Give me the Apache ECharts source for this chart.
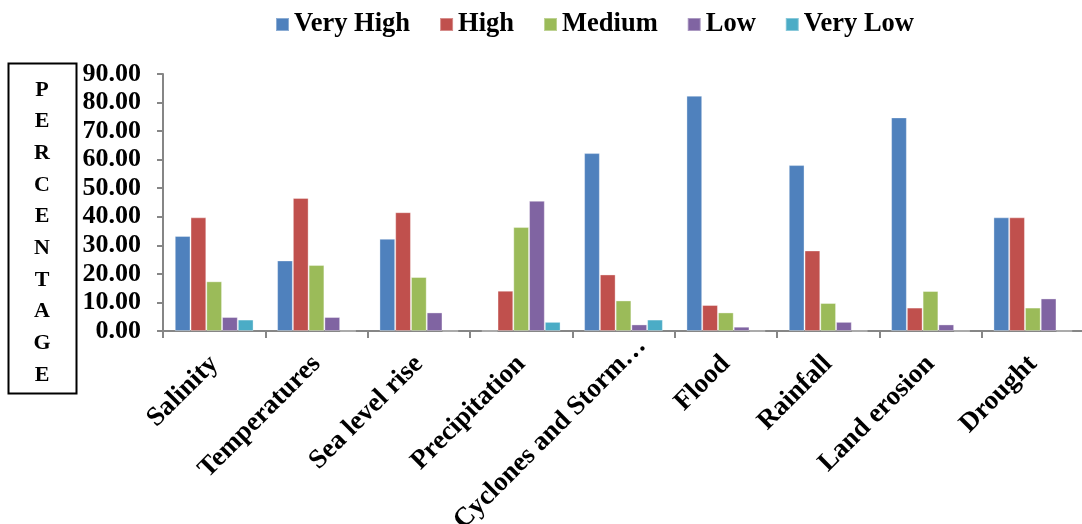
<!DOCTYPE html>
<html>
<head>
<meta charset="utf-8">
<script src="https://cdn.jsdelivr.net/npm/echarts@6/dist/echarts.min.js"></script>
<style>
  html, body { margin: 0; padding: 0; background: #ffffff; }
  #chart { width: 1082px; height: 524px; }
</style>
</head>
<body>
<div id="chart"></div>
<script>
// Climate hazards ranked by share of respondents per perceived severity level (%)
const categories = ['Salinity', 'Temperatures', 'Sea level rise', 'Precipitation',
  'Cyclones and Storm Surge', 'Flood', 'Rainfall', 'Land erosion', 'Drought'];

const veryHigh = [33.3, 24.7, 32.3, 0, 62.3, 82.4, 58.1, 74.8, 39.8];
const high     = [39.8, 46.6, 41.6, 14.1, 19.8, 9.1, 28.2, 8.2, 39.8];
const medium   = [17.4, 23.1, 18.9, 36.4, 10.7, 6.5, 9.8, 14.0, 8.2];
const low      = [4.9, 4.9, 6.5, 45.6, 2.3, 1.5, 3.2, 2.3, 11.4];
const veryLow  = [4.0, 0, 0, 3.2, 4.0, 0, 0, 0, 0];

const seriesNames = ['Very High', 'High', 'Medium', 'Low', 'Very Low'];
const seriesData = [veryHigh, high, medium, low, veryLow];
const colors = ['#4F81BD', '#C0504D', '#9BBB59', '#8064A2', '#4BACC6'];

const yTicks = { min: 0, max: 90, step: 10 };
const yTitle = 'PERCENTAGE';

const serif = '"Liberation Serif", "DejaVu Serif", serif';
const axisGray = '#868686';
const longLabelWidth = 262;

// the long, truncated category label sits a little further along its slant
const categoryItems = categories.map(name =>
  name.length > 20
    ? { value: name, textStyle: { padding: [0, -26, 0, 0] } }
    : name
);

const chart = echarts.init(document.getElementById('chart'), null, { renderer: 'canvas' });

chart.setOption({
  animation: false,
  color: colors,
  legend: {
    top: 6,
    left: 270,
    itemWidth: 13,
    itemHeight: 13,
    itemGap: 29,
    icon: 'rect',
    textStyle: { fontFamily: serif, fontWeight: 'bold', fontSize: 26.5, color: '#000' },
    data: seriesNames
  },
  grid: {
    left: 163, right: -2, top: 74, bottom: 193,
    containLabel: false,
    outerBoundsMode: 'none'
  },
  xAxis: {
    type: 'category',
    data: categoryItems,
    axisLine: { lineStyle: { color: axisGray, width: 2 } },
    axisTick: { show: true, length: 7, lineStyle: { color: axisGray, width: 2 } },
    axisLabel: {
      rotate: 45,
      interval: 0,
      margin: 29,
      fontFamily: serif,
      fontWeight: 'bold',
      fontSize: 27,
      color: '#000',
      width: longLabelWidth,
      overflow: 'truncate',
      ellipsis: '…'
    }
  },
  yAxis: {
    type: 'value',
    min: yTicks.min,
    max: yTicks.max,
    interval: yTicks.step,
    splitLine: { show: false },
    axisLine: { show: true, lineStyle: { color: axisGray, width: 2 } },
    axisTick: { show: true, length: 6, lineStyle: { color: axisGray, width: 2 } },
    axisLabel: {
      margin: 22,
      fontFamily: serif,
      fontWeight: 'bold',
      fontSize: 26,
      color: '#000',
      formatter: v => v.toFixed(2)
    }
  },
  series: seriesNames.map((name, i) => ({
    name: name,
    type: 'bar',
    data: seriesData[i],
    barGap: '0%',
    barCategoryGap: '23%',
    itemStyle: { color: colors[i], borderColor: 'rgba(255,255,255,0.35)', borderWidth: 1 }
  })),
  graphic: [
    {
      type: 'rect',
      shape: { x: 8.5, y: 63.5, width: 68, height: 330 },
      style: { fill: '#fff', stroke: '#000', lineWidth: 2 }
    },
    {
      type: 'text',
      x: 42,
      y: 74,
      style: {
        text: yTitle.split('').join('\n'),
        fontFamily: serif,
        fontWeight: 'bold',
        fontSize: 22,
        lineHeight: 31.7,
        fill: '#000',
        align: 'center',
        verticalAlign: 'top'
      }
    }
  ]
});
</script>
</body>
</html>
